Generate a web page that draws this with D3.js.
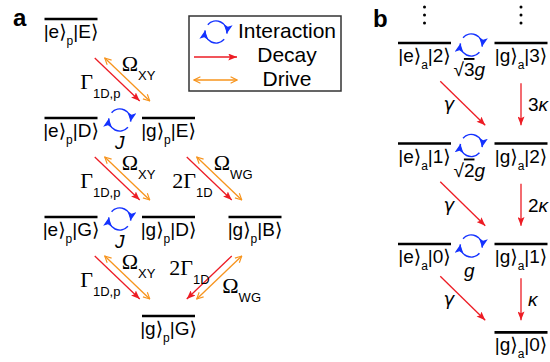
<!DOCTYPE html>
<html>
<head>
<meta charset="utf-8">
<script src="https://cdn.jsdelivr.net/npm/d3@7"></script>
<style>
body { margin: 0; background: #fff; }
svg { display: block; font-family: "Liberation Sans", "DejaVu Sans", sans-serif; }
</style>
</head>
<body>
<script>
// panel a: photon-emitter levels |atom>_p |field>, column + row (energy step)
const levelsA = [
  {a: "e", s: "p", f: "E", col: "L", row: 0},
  {a: "e", s: "p", f: "D", col: "L", row: 1},
  {a: "g", s: "p", f: "E", col: "M", row: 1},
  {a: "e", s: "p", f: "G", col: "L", row: 2},
  {a: "g", s: "p", f: "D", col: "M", row: 2},
  {a: "g", s: "p", f: "B", col: "R", row: 2},
  {a: "g", s: "p", f: "G", col: "M", row: 3}
]
// decay / drive pairs between levels (indexes into levelsA)
const pairsA = [
  {from: 0, to: 2, decay: "Γ", dsub: "1D,p", drive: "Ω", vsub: "XY"},
  {from: 1, to: 4, decay: "Γ", dsub: "1D,p", drive: "Ω", vsub: "XY"},
  {from: 3, to: 6, decay: "Γ", dsub: "1D,p", drive: "Ω", vsub: "XY"},
  {from: 2, to: 5, decay: "2Γ", dsub: "1D", drive: "Ω", vsub: "WG"},
  {from: 5, to: 6, decay: "2Γ", dsub: "1D", drive: "Ω", vsub: "WG"}
]
const swapsA = [{left: 1, right: 2, label: "J"}, {left: 3, right: 4, label: "J"}]

// panel b: atom + cavity ladder
const levelsB = [
  {a: "e", s: "a", f: "2", col: "e", row: 0},
  {a: "g", s: "a", f: "3", col: "g", row: 0},
  {a: "e", s: "a", f: "1", col: "e", row: 1},
  {a: "g", s: "a", f: "2", col: "g", row: 1},
  {a: "e", s: "a", f: "0", col: "e", row: 2},
  {a: "g", s: "a", f: "1", col: "g", row: 2},
  {a: "g", s: "a", f: "0", col: "g", row: 2.88}
]
const gammaB = [{from: 0, to: 3}, {from: 2, to: 5}, {from: 4, to: 6}]
const kappaB = [{from: 1, to: 3, n: "3"}, {from: 3, to: 5, n: "2"}, {from: 5, to: 6, n: ""}]
const swapsB = [{left: 0, right: 1, n: "3"}, {left: 2, right: 3, n: "2"}, {left: 4, right: 5, n: ""}]
const dotsOver = [0, 1]

const legendItems = ["Interaction", "Decay", "Drive"]

const RED = "#ed1c24", ORANGE = "#f7941d", BLUE = "#1432ff"

const svg = d3.select("body").append("svg").attr("width", 550).attr("height", 362)

const xA = d3.scaleOrdinal().domain(["L", "M", "R"]).range([71, 168.5, 255]),
    yA = d3.scaleLinear().domain([0, 3]).range([19, 316]),
    xB = d3.scaleOrdinal().domain(["e", "g"]).range([424.5, 521]),
    yB = d3.scaleLinear().domain([0, 2]).range([43, 244])

const half = 26.5

const defs = svg.append("defs")
defs.append("marker").attr("id", "redHead")
    .attr("viewBox", "0 0 10 8").attr("refX", 10).attr("refY", 4)
    .attr("markerWidth", 9).attr("markerHeight", 7).attr("markerUnits", "userSpaceOnUse")
    .attr("orient", "auto")
  .append("path").attr("d", "M0,0 L10,4 L0,8 L2,4 Z").attr("fill", RED)
defs.append("marker").attr("id", "orangeHead")
    .attr("viewBox", "0 0 10 10").attr("refX", 9).attr("refY", 5)
    .attr("markerWidth", 8).attr("markerHeight", 8).attr("markerUnits", "userSpaceOnUse")
    .attr("orient", "auto-start-reverse")
  .append("path").attr("d", "M1,1 L9,5 L1,9").attr("fill", "none").attr("stroke", ORANGE).attr("stroke-width", 1.4)
defs.append("marker").attr("id", "blueHead")
    .attr("viewBox", "0 0 10 10").attr("refX", 10).attr("refY", 5)
    .attr("markerWidth", 9).attr("markerHeight", 9).attr("markerUnits", "userSpaceOnUse")
    .attr("orient", "auto")
  .append("path").attr("d", "M0,0 L10,5 L0,10 L2.5,5 Z").attr("fill", BLUE)

const place = (levels, x, y) => levels.map(d => ({...d, x: x(d.col), y: y(d.row)}))
const lvA = place(levelsA, xA, yA), lvB = place(levelsB, xB, yB)

function drawLevels(g, lv) {
  g.selectAll("line.level").data(lv).join("line").attr("class", "level")
    .attr("x1", d => d.x - half).attr("x2", d => d.x + half)
    .attr("y1", d => d.y).attr("y2", d => d.y)
    .attr("stroke", "#000").attr("stroke-width", 2.7)
  const t = g.selectAll("text.ket").data(lv).join("text").attr("class", "ket")
    .attr("x", d => d.x).attr("y", d => d.y + 19)
    .attr("text-anchor", "middle").style("font-size", "19px")
  t.append("tspan").text(d => `|${d.a}⟩`)
  t.append("tspan").text(d => d.s).attr("dy", 7).style("font-size", "12px")
  t.append("tspan").text(d => `|${d.f}⟩`).attr("dy", -7)
}

const rad = a => a * Math.PI / 180
function swirl(g, cx, cy, r) {
  const top = d3.path(); top.arc(cx, cy, r, rad(222), rad(368))
  const bot = d3.path(); bot.arc(cx, cy, r, rad(42), rad(188))
  for (const p of [top, bot]) {
    g.append("path").attr("d", p.toString()).attr("fill", "none")
      .attr("stroke", BLUE).attr("stroke-width", 1.5).attr("marker-end", "url(#blueHead)")
  }
}

function arrow(g, x1, y1, x2, y2, kind) {
  const l = g.append("line").attr("x1", x1).attr("y1", y1).attr("x2", x2).attr("y2", y2)
    .attr("stroke", kind == "decay" ? RED : ORANGE).attr("stroke-width", 1.3)
  if (kind == "decay") l.attr("marker-end", "url(#redHead)")
  else l.attr("marker-end", "url(#orangeHead)").attr("marker-start", "url(#orangeHead)")
}

function greek(g, x, y, main, sub) {
  const t = g.append("text").attr("x", x).attr("y", y)
  t.append("tspan").text(main).style("font-family", "'Liberation Serif', 'DejaVu Serif', serif").style("font-size", "22px")
  t.append("tspan").text(sub).attr("dy", 9).style("font-size", "13px")
}

// ---- panel a
const pa = svg.append("g")
pa.append("text").text("a").attr("x", 13).attr("y", 26).style("font-weight", 700).style("font-size", "24px")
drawLevels(pa, lvA)

for (const t of pairsA) {
  const u = lvA[t.from], l = lvA[t.to], dir = Math.sign(l.x - u.x)
  const xm = (u.x + l.x) / 2 - 2.5, ym = (u.y + l.y) / 2 + 11
  arrow(pa, xm - dir * 22.5, ym - 21.5, xm + dir * 22.5, ym + 21.5, "decay")
  arrow(pa, xm - dir * 22.5 + 10, ym - 21.5, xm + dir * 22.5 + 10, ym + 21.5, "drive")
  if (dir > 0) {
    greek(pa, xm - 37, ym + 9, t.decay, t.dsub)
    greek(pa, xm + 4.5, ym - 9, t.drive, t.vsub)
  } else {
    greek(pa, xm - 40, ym - 3, t.decay, t.dsub)
    greek(pa, xm + 13, ym + 15, t.drive, t.vsub)
  }
}

for (const s of swapsA) {
  const cx = (lvA[s.left].x + lvA[s.right].x) / 2, cy = lvA[s.left].y + 2
  swirl(pa, cx, cy, 11)
  pa.append("text").text(s.label).attr("x", cx).attr("y", cy + 29)
    .attr("text-anchor", "middle").style("font-style", "italic").style("font-size", "19px")
}

// legend
const legend = svg.append("g")
legend.append("rect").attr("x", 189).attr("y", 16).attr("width", 152).attr("height", 75)
  .attr("fill", "none").attr("stroke", "#333").attr("stroke-width", 1.5)
swirl(legend, 216, 32, 11)
arrow(legend, 194, 57, 237, 57, "decay")
arrow(legend, 194, 80, 237, 80, "drive")
legend.selectAll("text").data(legendItems).join("text")
  .text(d => d).attr("x", 287).attr("y", (d, i) => [38, 62, 86][i])
  .attr("text-anchor", "middle").style("font-size", "21px")

// ---- panel b
const pb = svg.append("g")
pb.append("text").text("b").attr("x", 373).attr("y", 27).style("font-weight", 700).style("font-size", "24px")
drawLevels(pb, lvB)

for (const i of dotsOver) {
  pb.selectAll(null).data([36, 28, 20]).join("circle")
    .attr("cx", lvB[i].x).attr("cy", d => lvB[i].y - d).attr("r", 1.5).attr("fill", "#000")
}

for (const t of gammaB) {
  const u = lvB[t.from], l = lvB[t.to]
  const xm = (u.x + l.x) / 2 - 10, ym = (u.y + l.y) / 2 + 10
  arrow(pb, xm - 22.5, ym - 22, xm + 22.5, ym + 22, "decay")
  pb.append("text").text("γ").attr("x", xm - 14).attr("y", ym + 7)
    .attr("text-anchor", "middle").style("font-family", "'DejaVu Sans', sans-serif")
    .style("font-style", "italic").style("font-size", "18px")
}

for (const t of kappaB) {
  const u = lvB[t.from], l = lvB[t.to]
  const ym = (u.y + l.y) / 2 + 11
  arrow(pb, u.x, ym - 21, u.x, ym + 21, "decay")
  const tx = pb.append("text").attr("x", u.x + 7).attr("y", ym + 7).style("font-size", "19px")
  tx.append("tspan").text(t.n)
  tx.append("tspan").text("κ").style("font-style", "italic")
}

for (const s of swapsB) {
  const cx = (lvB[s.left].x + lvB[s.right].x) / 2 - 1.5, cy = lvB[s.left].y + 2
  swirl(pb, cx, cy, 11)
  const tx = pb.append("text").attr("x", cx - 2).attr("y", cy + 31)
    .attr("text-anchor", "middle").style("font-size", "19px")
  if (s.n) {
    tx.append("tspan").text("√")
    tx.append("tspan").text(s.n).style("text-decoration", "overline")
  }
  tx.append("tspan").text("g").style("font-style", "italic")
}
</script>
</body>
</html>
